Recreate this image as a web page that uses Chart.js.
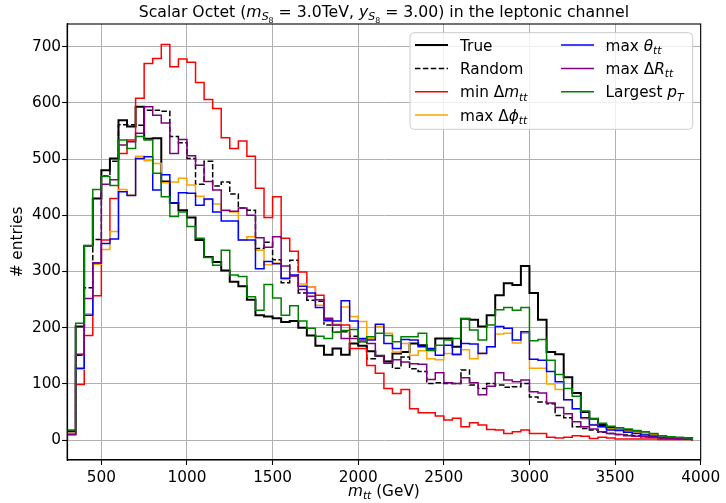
<!DOCTYPE html>
<html><head><meta charset="utf-8">
<script src="https://cdn.jsdelivr.net/npm/chart.js@4/dist/chart.umd.min.js"></script>
<style>html,body{margin:0;padding:0;background:#fff;}#wrap{width:726px;height:503px;}</style>
</head><body><div id="wrap"><canvas id="c" width="726" height="503"></canvas></div>
<script>
// ---- data ----
const binStart = 300;
const binWidth = 50;
const xTickValues = [500,1000,1500,2000,2500,3000,3500,4000];
const xTickLabels = ["500","1000","1500","2000","2500","3000","3500","4000"];
const yTickValues = [0,100,200,300,400,500,600,700];
const yTickLabels = ["0","100","200","300","400","500","600","700"];

const trueVals = [16,202,346,430,480,501,569,558,593,536,537,460,422,409,396,356,326,317,302,282,274,250,222,220,217,210,212,200,186,168,152,163,152,172,168,158,150,140,154,157,172,169,160,181,181,166,216,214,202,222,258,279,276,310,262,214,157,153,112,84,50,38,27,22,19,18,16,12,9,6,3,4,4];
const randomVals = [12,151,271,357,470,496,561,561,560,587,587,585,540,529,501,455,496,452,459,438,413,409,341,352,321,280,320,262,249,247,205,192,193,185,175,145,150,140,128,148,127,122,101,102,101,101,125,98,92,101,98,94,95,101,77,68,65,44,40,24,21,18,14,12,10,9,8,6,5,4,3,2,2];
const minDmVals = [10,99,186,257,356,430,510,534,608,670,679,704,664,678,672,636,606,590,538,519,532,505,448,396,433,359,336,299,272,258,214,205,205,163,163,133,119,92,83,90,56,49,49,43,36,39,24,31,27,19,18,12,15,18,12,12,5,4,5,8,7,3,5,4,2,2,2,2,2,1,1,1,1];
const maxDphiVals = [12,126,225,313,339,371,446,436,505,497,492,458,459,466,454,434,428,420,408,406,356,362,338,312,315,286,292,278,272,240,211,206,237,220,211,181,202,190,157,172,151,159,145,143,154,151,161,145,155,166,189,190,173,190,128,128,100,90,72,56,38,28,24,20,18,16,14,12,9,6,5,4,3];
const maxThetaVals = [10,128,222,315,350,358,442,435,501,504,445,472,422,440,439,418,429,406,390,390,356,356,305,318,314,288,294,274,262,236,213,212,248,212,181,178,206,172,163,179,178,166,163,151,169,153,172,171,154,166,202,199,178,193,144,142,122,104,72,56,40,27,24,18,17,14,12,9,7,5,4,3,2];
const maxDRVals = [10,153,252,315,455,463,525,531,546,593,578,564,510,535,506,489,460,445,409,407,413,400,360,343,362,310,292,268,256,250,217,205,181,181,178,172,150,137,143,139,136,135,108,120,102,101,111,102,81,96,120,107,104,107,86,84,66,58,47,33,24,20,15,12,10,8,7,6,5,4,3,3,2];
const largestPtVals = [18,208,346,446,469,453,534,519,540,534,475,433,398,406,380,359,325,311,338,294,291,255,231,277,253,222,239,212,199,185,181,192,195,197,175,184,190,186,175,184,184,190,160,169,178,181,216,196,178,205,232,236,231,236,177,179,142,117,92,78,52,38,30,25,22,20,17,15,12,8,6,5,4];

// ---- helpers ----
function stepPoints(vals){
  const pts = [{x: binStart, y: 0}];
  vals.forEach((v,i)=>pts.push({x: binStart + i*binWidth, y: v}));
  const end = binStart + vals.length*binWidth;
  pts.push({x: end, y: vals[vals.length-1]});
  pts.push({x: end, y: 0});
  return pts;
}
const FS = 15.3;
const TFS = 15.7;
const FAM = '"DejaVu Sans", sans-serif';
function fnt(size, it){ return (it ? 'italic ' : '') + size + 'px ' + FAM; }
function richWidth(ctx, parts, size){
  let w = 0;
  for (const p of parts){ ctx.font = fnt(size*(p.s||1), p.i); w += ctx.measureText(p.t).width; }
  return w;
}
function drawRich(ctx, parts, x, y, size, align){
  const w = richWidth(ctx, parts, size);
  let cx = align === 'center' ? x - w/2 : (align === 'right' ? x - w : x);
  ctx.textAlign = 'left'; ctx.textBaseline = 'alphabetic';
  for (const p of parts){
    ctx.font = fnt(size*(p.s||1), p.i);
    ctx.fillText(p.t, cx, y + (p.dy||0)*size);
    cx += ctx.measureText(p.t).width;
  }
}
const sub = t => ({t, i:true, s:0.7, dy:0.22});
const subsub = t => ({t, i:false, s:0.5, dy:0.36});

const series = [
  {label:[{t:'True'}], data: trueVals, color:'#000000', width:2, dash:[]},
  {label:[{t:'Random'}], data: randomVals, color:'#000000', width:1.5, dash:[5.5,2.4]},
  {label:[{t:'min Δ'},{t:'m',i:true},sub('tt')], data: minDmVals, color:'#ff0000', width:1.5, dash:[]},
  {label:[{t:'max Δ'},{t:'ϕ',i:true},sub('tt')], data: maxDphiVals, color:'#ffa500', width:1.5, dash:[]},
  {label:[{t:'max '},{t:'θ',i:true},sub('tt')], data: maxThetaVals, color:'#0000ff', width:1.5, dash:[]},
  {label:[{t:'max Δ'},{t:'R',i:true},sub('tt')], data: maxDRVals, color:'#800080', width:1.5, dash:[]},
  {label:[{t:'Largest '},{t:'p',i:true},sub('T')], data: largestPtVals, color:'#008000', width:1.5, dash:[]},
];

const datasets = series.map((s, k) => ({
  label: s.label.map(p=>p.t).join(''),
  data: stepPoints(s.data),
  borderColor: s.color,
  borderWidth: s.width,
  borderDash: s.dash,
  stepped: 'before',
  pointRadius: 0,
  fill: false,
  tension: 0,
  borderJoinStyle: 'miter',
  order: series.length - k
}));

const decor = {
  id: 'decor',
  afterDatasetsDraw(chart){
    const {ctx, chartArea: a} = chart;
    ctx.save();
    ctx.strokeStyle = '#000'; ctx.lineWidth = 1.1;
    ctx.strokeRect(a.left, a.top, a.right - a.left, a.bottom - a.top);
    ctx.restore();
  },
  afterDraw(chart){
    const {ctx, chartArea: a} = chart;
    ctx.save();
    ctx.fillStyle = '#000';
    const cx = (a.left + a.right)/2;
    // title
    drawRich(ctx, [
      {t:'Scalar Octet ('},{t:'m',i:true},{t:'S',i:true,s:0.7,dy:0.2},subsub('8'),
      {t:' = 3.0TeV, '},{t:'y',i:true},{t:'S',i:true,s:0.7,dy:0.2},subsub('8'),
      {t:' = 3.00) in the leptonic channel'}
    ], cx, 17, TFS, 'center');
    // x label
    drawRich(ctx, [{t:'m',i:true},sub('tt'),{t:' (GeV)'}], cx, 496, FS, 'center');
    // y label
    ctx.save();
    ctx.translate(22, (a.top + a.bottom)/2);
    ctx.rotate(-Math.PI/2);
    drawRich(ctx, [{t:'# entries'}], 0, 0, FS, 'center');
    ctx.restore();
    // legend
    const L = 410, T = 32.7, R = 692.7, B = 129.3, r = 4;
    ctx.beginPath();
    ctx.moveTo(L + r, T); ctx.lineTo(R - r, T); ctx.quadraticCurveTo(R, T, R, T + r);
    ctx.lineTo(R, B - r); ctx.quadraticCurveTo(R, B, R - r, B);
    ctx.lineTo(L + r, B); ctx.quadraticCurveTo(L, B, L, B - r);
    ctx.lineTo(L, T + r); ctx.quadraticCurveTo(L, T, L + r, T);
    ctx.closePath();
    ctx.fillStyle = 'rgba(255,255,255,0.8)'; ctx.fill();
    ctx.strokeStyle = '#cccccc'; ctx.lineWidth = 1; ctx.stroke();
    const rows = [45, 68.5, 91.8, 115];
    const cols = [{hx:415, tx:460}, {hx:561, tx:605.5}];
    series.forEach((s, k) => {
      const col = k < 4 ? cols[0] : cols[1];
      const y = rows[k < 4 ? k : k - 4];
      ctx.beginPath();
      ctx.setLineDash(s.dash);
      ctx.strokeStyle = s.color; ctx.lineWidth = s.width;
      ctx.moveTo(col.hx, y); ctx.lineTo(col.hx + 33, y); ctx.stroke();
      ctx.setLineDash([]);
      ctx.fillStyle = '#000';
      drawRich(ctx, s.label, col.tx, y + 5.5, FS, 'left');
    });
    ctx.restore();
  }
};

new Chart(document.getElementById('c'), {
  type: 'line',
  data: { datasets },
  options: {
    responsive: false,
    animation: false,
    devicePixelRatio: 1,
    layout: { padding: { top: 24, right: 25.3, left: 0, bottom: 0 } },
    plugins: { legend: { display: false }, title: { display: false }, tooltip: { enabled: false } },
    scales: {
      x: {
        type: 'linear', min: 300, max: 4000,
        afterFit: s => { s.height = 43; },
        afterBuildTicks: s => { s.ticks = xTickValues.map(v => ({value: v})); },
        ticks: { callback: v => xTickLabels[xTickValues.indexOf(v)], color: '#000', font: {family: FAM, size: FS}, padding: 4, maxRotation: 0, autoSkip: false },
        grid: { color: '#b0b0b0', lineWidth: 1, tickColor: '#000', tickLength: 5, tickWidth: 1.1 },
        border: { display: true, color: '#000', width: 1.1 }
      },
      y: {
        type: 'linear', min: -35.25, max: 740.25,
        afterFit: s => { s.width = 67.1; },
        afterBuildTicks: s => { s.ticks = yTickValues.map(v => ({value: v})); },
        ticks: { callback: v => yTickLabels[yTickValues.indexOf(v)], color: '#000', font: {family: FAM, size: FS}, padding: 1, autoSkip: false },
        grid: { color: '#b0b0b0', lineWidth: 1, tickColor: '#000', tickLength: 5, tickWidth: 1.1 },
        border: { display: true, color: '#000', width: 1.1 }
      }
    }
  },
  plugins: [decor]
});
</script>
</body></html>
